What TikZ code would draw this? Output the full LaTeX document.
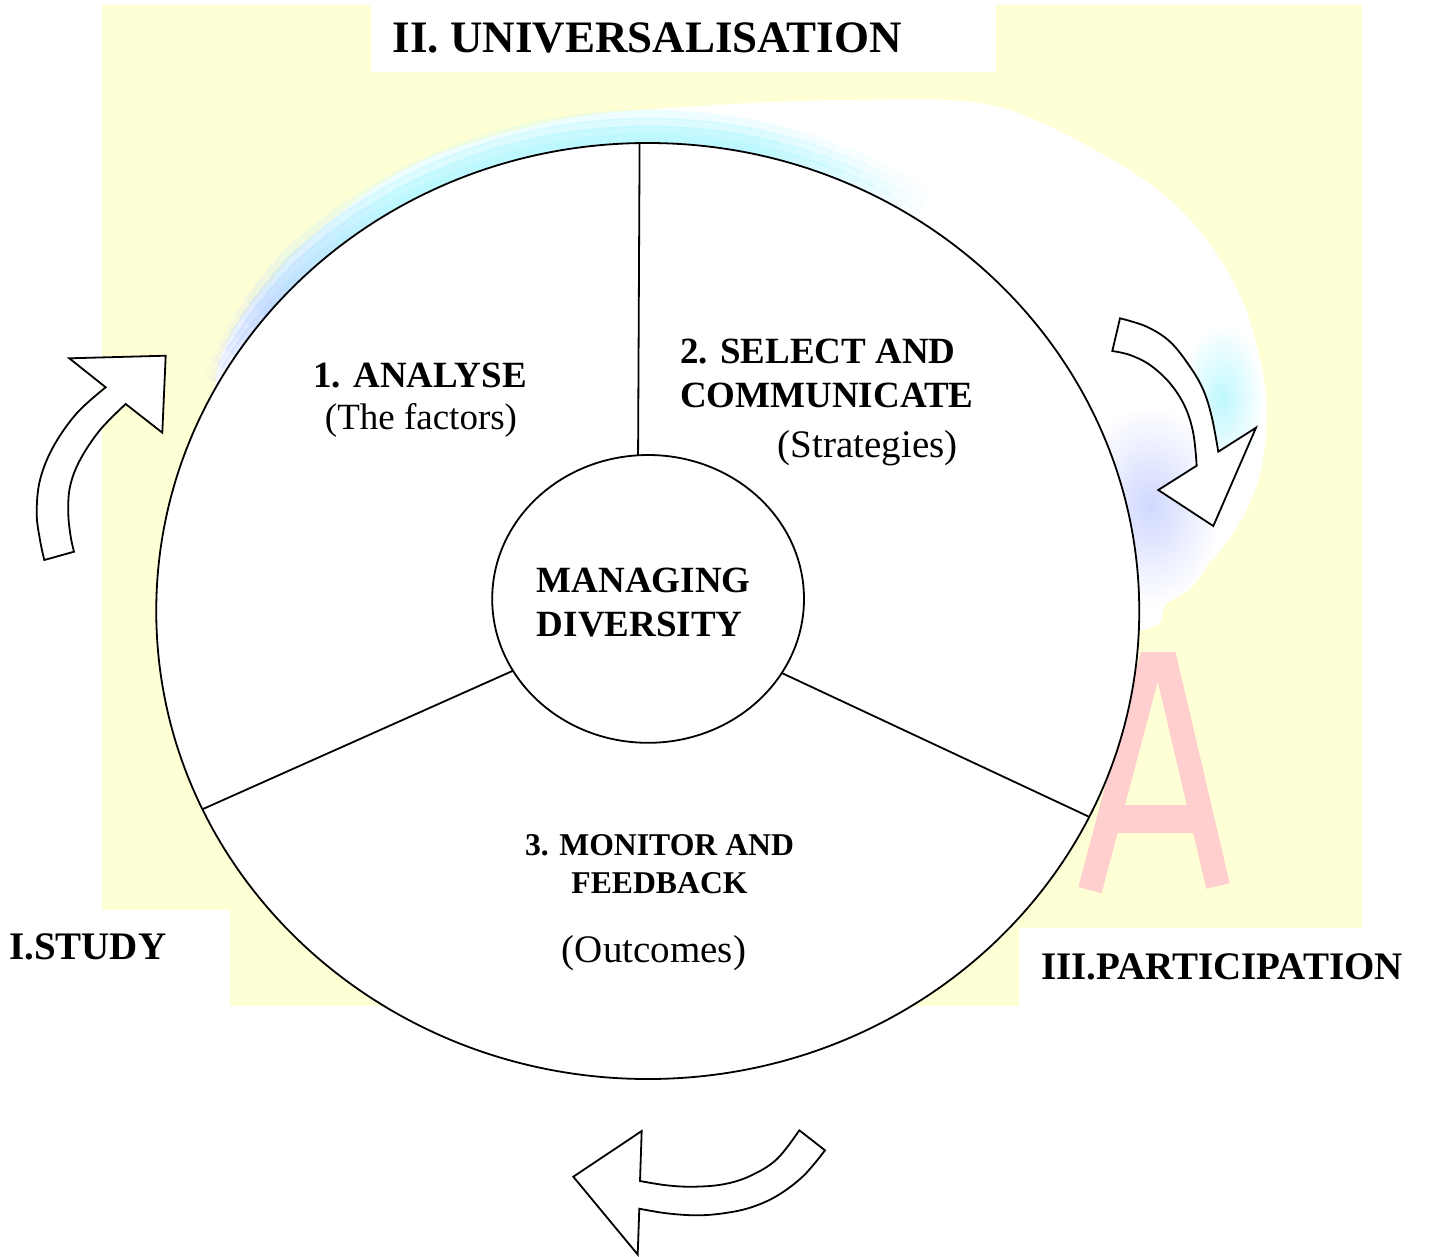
\documentclass[tikz,border=0pt]{standalone}
\usepackage{fontspec}
\setmainfont{Liberation Serif}
\usetikzlibrary{shapes.geometric}
\definecolor{paleyellow}{RGB}{255,255,214}
\definecolor{hazecyan}{RGB}{190,248,255}
\definecolor{hazeblue}{RGB}{196,206,255}
\definecolor{watermarkpink}{RGB}{255,206,206}
\begin{document}
\begin{tikzpicture}[x=1pt,y=-1pt,
  rimline/.style={draw=black, line width=1.8pt},
  blockarrow/.style={rimline, fill=white, line join=miter},
  sidelabel/.style={font=\bfseries\fontsize{39}{46}\selectfont, anchor=base west, inner sep=0pt},
  stagehead/.style={font=\bfseries\fontsize{37}{44}\selectfont, anchor=base west, inner sep=0pt},
  stagenote/.style={font=\fontsize{37}{44}\selectfont, anchor=base, inner sep=0pt},
  smallhead/.style={font=\bfseries\fontsize{31.7}{38}\selectfont, anchor=base, inner sep=0pt},
  ring/.style={ellipse, rimline, fill=white, inner sep=0pt, outer sep=0pt},
]
\useasboundingbox (0,0) rectangle (1435,1256);
\fill[white] (0,0) rectangle (1435,1256);

% pale yellow backdrop with the white label panels
\fill[paleyellow] (102,5) rectangle (1362,1006);
\fill[white] (371,0) rectangle (996,71.5);
\fill[white] (0,910) rectangle (230,1256);
\fill[white] (1019,928) rectangle (1435,1256);

% faint cloud watermark behind the wheel
\fill[white] plot[smooth cycle, tension=0.55] coordinates {
  (225,470) (214,398) (234,330) (318,232) (420,162) (560,120)
  (700,106) (850,100) (995,106) (1121,165) (1192,222) (1242,300) (1266,397)
  (1258,481) (1224,546) (1168,602) (1135,632) (900,660) (400,660)};
\foreach \a in {207,209,...,301}{
  \pgfmathsetmacro\op{min(1,(\a-207)/12,(303-\a)/22)}
  \pgfmathsetmacro\ws{min(1,0.5+(\a-207)/36)}
  \pgfmathtruncatemacro\mixp{max(0,min(100,(238-\a)*3.5))}
  \foreach \k/\f in {1/1,2/0.85,3/0.55,4/0.25}{
    \pgfmathsetmacro\lw{8*\ws+1.5}
    \draw[color=hazeblue!\mixp!hazecyan, line width=\lw pt, opacity=\f*\op]
      plot[domain=\a:\a+2, samples=3]
      ({647.75+(491.5+(\k*8-3.5)*\ws)*cos(\x)}, {611+(468+(\k*8-3.5)*\ws)*sin(\x)});
  }
}
\shade[inner color=hazecyan, outer color=white] (1222,398) ellipse[x radius=42, y radius=75];
\shade[inner color=hazeblue!80!white, outer color=white] (1150,505) ellipse[x radius=72, y radius=100];

% faint letter watermark
\draw[watermarkpink, line width=24pt, line join=miter] (1090,890) -- (1150,664) -- (1166,664) -- (1218,886);
\draw[watermarkpink, line width=28pt] (1106,819) -- (1208,819);

% the wheel
\node[ring, minimum width=983pt, minimum height=936pt] (outer) at (647.75,611) {};
\node[ring, minimum width=311.8pt, minimum height=287.8pt] (hub) at (648.1,598.9) {};
\draw[rimline] (hub.94.82) -- (outer.91.44);
\draw[rimline] (hub.208.3) -- (outer.204.5);
\draw[rimline] (hub.331.9) -- (outer.335.5);

% texts
\node[font=\bfseries\fontsize{45}{54}\selectfont, anchor=base west, inner sep=0pt] (title) at (392.5,52) {II. UNIVERSALISATION};
\node[sidelabel] (study) at (9,959.5) {I.STUDY};
\node[sidelabel] (participation) at (1041,979) {III.PARTICIPATION};

\node[stagehead, anchor=base] (analyse) at (420,387.5) {1. ANALYSE};
\node[stagenote] (factors) at (421,429.5) {(The factors)};

\node[stagehead] (select) at (680,363) {2. SELECT AND};
\node[stagehead] (communicate) at (680,407.2) {COMMUNICATE};
\node[font=\fontsize{39}{46}\selectfont, anchor=base west, inner sep=0pt] (strategies) at (777.5,457.7) {(Strategies)};

\node[stagehead] (managing) at (536.7,592.7) {MANAGING};
\node[stagehead] (diversity) at (536.7,636) {DIVERSITY};

\node[smallhead] (monitor) at (659.5,855) {3. MONITOR AND};
\node[smallhead] (feedback) at (659.5,893) {FEEDBACK};
\node[font=\fontsize{39}{46}\selectfont, anchor=base, inner sep=0pt] (outcomes) at (654,962.7) {(Outcomes)};

% curved block arrows
\draw[blockarrow] (165.7,355.7) -- (162.3,432.7) -- (125.7,404)
  -- plot[smooth, tension=0.6] coordinates {(125.7,404) (100,430) (80,460) (70,486.7) (68.3,513.3) (70.7,536.7) (74,551.7)}
  -- (44.3,560)
  -- plot[smooth, tension=0.6] coordinates {(44.3,560) (40,540) (36.7,513.3) (40,480) (53.3,446.7) (76.7,413.3) (105.7,387.3)}
  -- (69.3,358.3) -- cycle;

\draw[blockarrow] (1120,318.3)
  -- plot[smooth, tension=0.6] coordinates {(1120,318.3) (1146.7,326.7) (1170,341.7) (1190,366.7) (1203.3,390) (1211.7,416.7) (1218.3,451.7)}
  -- (1256,427.7) -- (1213.3,526) -- (1158.3,490) -- (1196.7,465.7)
  -- plot[smooth, tension=0.6] coordinates {(1196.7,465.7) (1193.3,433.3) (1185,406.7) (1170,383.3) (1150,365) (1130,355) (1112.3,351)}
  -- cycle;

\draw[blockarrow] (641.7,1131) -- (640,1181)
  -- plot[smooth, tension=0.6] coordinates {(640,1181) (666.7,1185.3) (693.3,1186.7) (723.3,1184.3) (750,1176) (776.7,1159.3) (799.3,1130.3)}
  -- (825,1150.3)
  -- plot[smooth, tension=0.6] coordinates {(825,1150.3) (803.3,1176) (776.7,1196) (750,1207.7) (723.3,1213.3) (696.7,1215.3) (666.7,1213.3) (639.3,1208.7)}
  -- (637.7,1254.5) -- (573.3,1176.7) -- cycle;
\end{tikzpicture}
\end{document}
